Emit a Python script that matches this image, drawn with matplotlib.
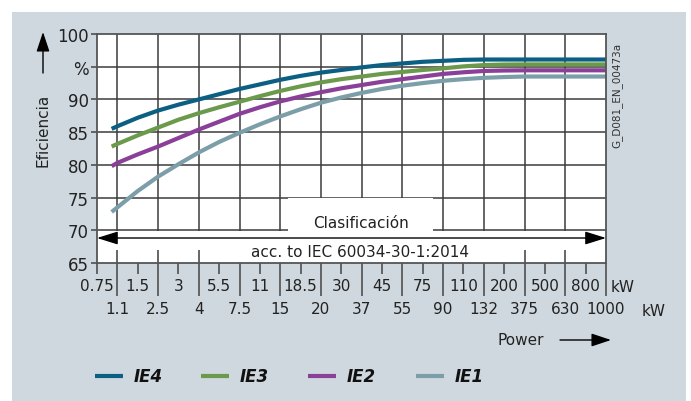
import matplotlib
matplotlib.use("Agg")
import matplotlib.pyplot as plt
from matplotlib.patches import Rectangle, FancyArrowPatch
from matplotlib.lines import Line2D

# ---------------- data ----------------
power_labels = ['0.75', '1.1', '1.5', '2.5', '3', '4', '5.5', '7.5', '11', '15', '18.5', '20', '30',
                '37', '45', '55', '75', '90', '110', '132', '200', '375', '500', '630', '800', '1000']
# curve sample positions on the category axis (category index)
curve_x = [0.72, 1, 2, 3, 4, 5, 6, 7, 8, 9, 10, 11, 12, 13, 14, 15, 16, 17, 18, 19, 20, 21, 22, 23, 24, 25]
ie4 = [85.5, 85.9, 87.2, 88.3, 89.2, 90.0, 90.8, 91.6, 92.3, 93.0, 93.6, 94.1, 94.5, 94.9, 95.25, 95.5,
       95.75, 95.9, 96.05, 96.1, 96.1, 96.1, 96.1, 96.1, 96.1, 96.1]
ie3 = [82.8, 83.2, 84.5, 85.7, 86.9, 87.9, 88.8, 89.65, 90.5, 91.3, 92.0, 92.6, 93.1, 93.5, 93.9, 94.2,
       94.5, 94.75, 95.05, 95.25, 95.33, 95.35, 95.35, 95.35, 95.35, 95.35]
ie2 = [79.8, 80.3, 81.6, 82.8, 84.1, 85.4, 86.6, 87.8, 88.8, 89.7, 90.45, 91.1, 91.7, 92.2, 92.7, 93.1,
       93.5, 93.9, 94.15, 94.35, 94.42, 94.45, 94.45, 94.45, 94.45, 94.45]
ie1 = [72.8, 73.5, 76.0, 78.2, 80.1, 81.9, 83.5, 84.9, 86.2, 87.4, 88.5, 89.5, 90.3, 91.0, 91.6, 92.1,
       92.5, 92.85, 93.1, 93.3, 93.42, 93.5, 93.5, 93.5, 93.5, 93.5]
series_names = ['IE4', 'IE3', 'IE2', 'IE1']
series_values = [ie4, ie3, ie2, ie1]
series_colors = ['#0b5f83', '#6c9a4c', '#8a3f99', '#7c9ea9']
y_ticks = [65, 70, 75, 80, 85, 90, 95, 100]
y_tick_labels = ['65', '70', '75', '80', '85', '90', '%', '100']

# ---------------- figure ----------------
W, H = 691, 402
fig = plt.figure(figsize=(W / 100, H / 100), dpi=100)
fig.patch.set_facecolor('white')
plt.rcParams['font.family'] = ['DejaVu Sans']

def fx(x):
    return x / W

def fy(y):
    return 1 - y / H

bg = Rectangle((fx(12), 0), fx(686) - fx(12), fy(13), transform=fig.transFigure,
               facecolor='#cfd8de', edgecolor='none', zorder=0)
fig.add_artist(bg)

ax = fig.add_axes([fx(97), fy(264), fx(606) - fx(97), fy(35) - fy(264)])
ax.set_facecolor('white')
ax.set_xlim(0, len(power_labels) - 1)
ax.set_ylim(65, 100)

gcol = '#3c3c3c'
# vertical grid at odd category positions
for i in range(1, len(power_labels) - 1, 2):
    ax.axvline(i, color=gcol, lw=1.1, zorder=1)
for yv in y_ticks[1:-1]:
    ax.axhline(yv, color=gcol, lw=1.1, zorder=3)

# classification band
ax.add_patch(Rectangle((0, 67.0), 25, 2.95, facecolor='white', edgecolor='none', zorder=2))
ax.add_patch(Rectangle((9.4, 69.85), 7.1, 5.05, facecolor='white', edgecolor='none', zorder=4))
ax.add_patch(Rectangle((6.9, 65), 12.3, 2.0, facecolor='white', edgecolor='none', zorder=2))
ax.text(12.95, 71.2, 'Clasificación', ha='center', va='center', fontsize=11, color='#222', zorder=5)
ax.text(12.9, 66.75, 'acc. to IEC 60034-30-1:2014', ha='center', va='center', fontsize=11,
        color='#222', zorder=5)
arr = FancyArrowPatch((0, 68.82), (25, 68.82), arrowstyle='<|-|>,head_length=1.6,head_width=0.5',
                      mutation_scale=8, color='black', lw=1.0, zorder=6,
                      shrinkA=0, shrinkB=0)
ax.add_patch(arr)

# curves
for name, vals, col in zip(series_names, series_values, series_colors):
    ax.plot(curve_x, vals, color=col, lw=3.0, solid_capstyle='butt', zorder=7)

# spines
for s in ax.spines.values():
    s.set_color('#555')
    s.set_linewidth(1.3)
    s.set_zorder(8)

# y ticks
ax.set_yticks(y_ticks)
ax.set_yticklabels(y_tick_labels, fontsize=12, color='#222')
ax.tick_params(axis='y', direction='out', length=4, width=1.1, color='#444', pad=2)

# x ticks: odd positions long (bottom row labels), even positions short (top row labels)
major_pos = list(range(1, len(power_labels), 2))
minor_pos = list(range(0, len(power_labels), 2))
ax.set_xticks(major_pos)
ax.set_xticklabels([power_labels[i] for i in major_pos], fontsize=11, color='#222')
ax.set_xticks(minor_pos, minor=True)
ax.set_xticklabels([power_labels[i] for i in minor_pos], minor=True, fontsize=11, color='#222')
ax.tick_params(axis='x', which='major', direction='out', length=24, width=1.1, color='#444', pad=3)
ax.tick_params(axis='x', which='minor', direction='out', length=8, width=1.1, color='#444', pad=3)

fig.text(fx(611), fy(288), 'kW', ha='left', va='center', fontsize=11, color='#222')
fig.text(fx(642), fy(312), 'kW', ha='left', va='center', fontsize=11, color='#222')

# y label with arrow
fig.text(fx(43), fy(130), 'Eficiencia', rotation=90, ha='center', va='center', fontsize=11, color='#222')
fig.add_artist(FancyArrowPatch((fx(43), fy(74)), (fx(43), fy(33)), transform=fig.transFigure,
                               arrowstyle='-|>,head_length=1.2,head_width=0.4', mutation_scale=10,
                               color='black', lw=1.0, shrinkA=0, shrinkB=0))

# code text
fig.text(fx(617), fy(95), 'G_D081_EN_00473a', rotation=90, ha='center', va='center',
         fontsize=7.5, color='#333')

# Power label with arrow
fig.text(fx(521), fy(341), 'Power', ha='center', va='center', fontsize=11, color='#222')
fig.add_artist(FancyArrowPatch((fx(560), fy(341)), (fx(611), fy(341)), transform=fig.transFigure,
                               arrowstyle='-|>,head_length=1.2,head_width=0.4', mutation_scale=10,
                               color='black', lw=1.0, shrinkA=0, shrinkB=0))

# legend
leg_x = [95, 201, 308, 416]
for xs, name, col in zip(leg_x, series_names, series_colors):
    fig.add_artist(Line2D([fx(xs), fx(xs + 28)], [fy(377), fy(377)], transform=fig.transFigure,
                          color=col, lw=3.0, solid_capstyle='butt'))
    fig.text(fx(xs + 39), fy(377), name, ha='left', va='center', fontsize=12,
             fontweight='bold', fontstyle='italic', color='#111')

fig.savefig('out.png', dpi=100)
